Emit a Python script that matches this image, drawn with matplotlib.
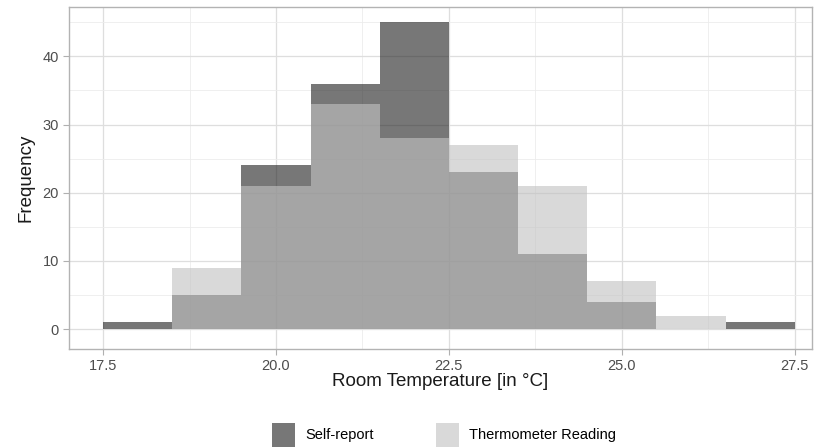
import numpy as np
import matplotlib.pyplot as plt
from matplotlib.patches import Patch

plt.rcParams['font.family'] = ['Liberation Sans', 'DejaVu Sans']

# bin edges (width 1 degree) and counts
bin_edges = [17.5, 18.5, 19.5, 20.5, 21.5, 22.5, 23.5, 24.5, 25.5, 26.5, 27.5]
self_report = [1, 5, 24, 36, 45, 23, 11, 4, 0, 1]
thermometer = [0, 9, 21, 33, 28, 27, 21, 7, 2, 0]

x_ticks = [17.5, 20.0, 22.5, 25.0, 27.5]
y_ticks = [0, 10, 20, 30, 40]

fig = plt.figure(figsize=(8.26, 4.48), dpi=100)
ax = fig.add_axes([0.083, 0.221, 0.900, 0.763])

left = np.array(bin_edges[:-1])
width = np.diff(bin_edges)
ax.bar(left, self_report, width=width, align='edge', color='#252525',
       alpha=0.625, linewidth=0, zorder=2)
ax.bar(left, thermometer, width=width, align='edge', color='#c2c2c2',
       alpha=0.625, linewidth=0, zorder=3)

ax.set_xlim(17.0, 27.75)
ax.set_ylim(-2.9, 47.2)
ax.set_xticks(x_ticks)
ax.set_xticklabels([f'{t:.1f}' for t in x_ticks])
ax.set_yticks(y_ticks)
ax.set_xticks([18.75, 21.25, 23.75, 26.25], minor=True)
ax.set_yticks([5, 15, 25, 35, 45], minor=True)
ax.grid(True, which='major', color='#dedede', linewidth=0.9, zorder=0)
ax.grid(True, which='minor', color='#ececec', linewidth=0.6, zorder=0)
ax.set_axisbelow(True)
ax.tick_params(which='major', length=4, color='#b0b0b0', labelsize=10.5,
               labelcolor='#4d4d4d', pad=3)
ax.tick_params(which='minor', length=0)
for s in ax.spines.values():
    s.set_color('#b3b3b3')
    s.set_linewidth(1.0)

ax.set_xlabel('Room Temperature [in °C]', fontsize=13.5, color='#1a1a1a', labelpad=0)
ax.set_ylabel('Frequency', fontsize=13.5, color='#1a1a1a', labelpad=6)

handles = [Patch(facecolor='#252525', alpha=0.625, edgecolor='none', label='Self-report'),
           Patch(facecolor='#c2c2c2', alpha=0.625, edgecolor='none', label='Thermometer Reading')]
fig.legend(handles=handles, loc='lower center', bbox_to_anchor=(0.5375, -0.026), ncol=2,
           frameon=False, fontsize=10.5, handlelength=1.55, handleheight=2.1,
           columnspacing=4.3, handletextpad=0.7)

fig.savefig('out.png', dpi=100)
